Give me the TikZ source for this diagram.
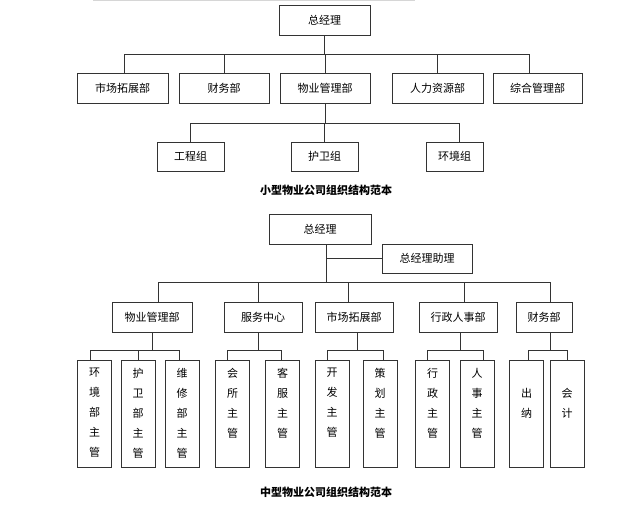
\documentclass[tikz,border=0pt]{standalone}
\usepackage{fontspec}
\usepackage{tikz}
\usetikzlibrary{positioning, calc}
\newfontfamily\cjk{Noto Sans CJK SC}
\definecolor{orgline}{HTML}{333333}
\definecolor{cropgray}{HTML}{D6D6D6}

\tikzset{
  orgbox/.style={draw=orgline, line width=0.8pt, minimum height=30, inner sep=0pt,
    font=\cjk\fontsize{11}{12}\selectfont},
  leafbox/.style={draw=orgline, line width=0.8pt, minimum width=34, minimum height=107, inner sep=0pt},
  leaftext/.style={anchor=north, inner sep=0pt, align=center,
    font=\cjk\fontsize{11}{20}\selectfont},
  link/.style={draw=orgline, line width=0.8pt},
  caption/.style={font=\cjk\bfseries\fontsize{11}{13}\selectfont}
}

\begin{document}
\begin{tikzpicture}[x=1pt, y=-1pt]
    \useasboundingbox (0,0) rectangle (640,519);
    % faint strip left at the top edge
    \draw[cropgray, line width=1pt] (93,0.5) -- (415,0.5);

    % small company
    \node[orgbox, minimum width=91] (gmA) at (324.5,20) {总经理};
    \node[orgbox, minimum width=91] (mkA) at (122.5,88) {市场拓展部};
    \node[orgbox, minimum width=90] (cwA) at (224,88) {财务部};
    \node[orgbox, minimum width=90] (wyA) at (325,88) {物业管理部};
    \node[orgbox, minimum width=91] (rlA) at (437.5,88) {人力资源部};
    \node[orgbox, minimum width=89] (zhA) at (537.5,88) {综合管理部};
    \node[orgbox, minimum width=67, minimum height=29] (gcA) at (190.5,156.5) {工程组};
    \node[orgbox, minimum width=67, minimum height=29] (hwA) at (324.5,156.5) {护卫组};
    \node[orgbox, minimum width=57, minimum height=29] (hjA) at (454.5,156.5) {环境组};
    \node[caption] (capA) at (326,190) {小型物业公司组织结构范本};

    \coordinate (busA) at (0,54);
    \coordinate (subA) at (0,123);
    \draw[link] (gmA.south) -- (gmA.south |- busA);
    \draw[link] ([xshift=1.5]mkA.north |- busA) -- ([xshift=-8.5]zhA.north |- busA);
    \foreach \n/\dx in {mkA/1.5, cwA/0, wyA/0, rlA/-0.5, zhA/-8.5}
      \draw[link] ([xshift=\dx]\n.north) -- ([xshift=\dx]\n.north |- busA);
    \draw[link] (wyA.south) -- (wyA.south |- subA);
    \draw[link] (gcA.north |- subA) -- ([xshift=4.5]hjA.north |- subA);
    \foreach \n/\dx in {gcA/0, hwA/0, hjA/4.5}
      \draw[link] ([xshift=\dx]\n.north) -- ([xshift=\dx]\n.north |- subA);

    % medium company
    \node[orgbox, minimum width=102] (gmB) at (320,229) {总经理};
    \node[orgbox, minimum width=90, minimum height=29] (zlB) at (427,258.5) {总经理助理};
    \node[orgbox, minimum width=80] (wyB) at (152,317) {物业管理部};
    \node[orgbox, minimum width=78] (fwB) at (263,317) {服务中心};
    \node[orgbox, minimum width=78] (scB) at (354,317) {市场拓展部};
    \node[orgbox, minimum width=78] (xzB) at (458,317) {行政人事部};
    \node[orgbox, minimum width=56] (cwB) at (544,317) {财务部};
    \node[caption] (capB) at (326,492) {中型物业公司组织结构范本};

    \coordinate (busB) at (0,282);
    \coordinate (subB) at (0,350);
    \draw[link] ([xshift=6]gmB.south) -- ([xshift=6]gmB.south |- busB);
    \draw[link] ([xshift=6]gmB.south |- zlB.west) -- (zlB.west);
    \draw[link] ([xshift=6]wyB.north |- busB) -- ([xshift=6]cwB.north |- busB);
    \foreach \n/\dx in {wyB/6, fwB/-5, scB/-6, xzB/6, cwB/6}
      \draw[link] ([xshift=\dx]\n.north) -- ([xshift=\dx]\n.north |- busB);
    \foreach \n/\dx in {wyB/0, fwB/-5, scB/3, xzB/2, cwB/6}
      \draw[link] ([xshift=\dx]\n.south) -- ([xshift=\dx]\n.south |- subB);

    % supervisors, written top to bottom
    \foreach \i/\x/\dx/\t/\s in {
        1/94.5/-4.5/{环\\境\\部\\主\\管}/-8,
        2/138/0/{护\\卫\\部\\主\\管}/-8,
        3/182/-3/{维\\修\\部\\主\\管}/-8,
        4/232.5/-5.5/{会\\所\\主\\管}/-8,
        5/282.5/-1.5/{客\\服\\主\\管}/-8,
        6/332/-5/{开\\发\\主\\管}/-8,
        7/380/3/{策\\划\\主\\管}/-8,
        8/432.5/-5.5/{行\\政\\主\\管}/-8,
        9/477/6/{人\\事\\主\\管}/-8,
        10/526.5/1.5/{出\\纳}/-28,
        11/567/0/{会\\计}/-28} {
      \node[leafbox] (s\i) at (\x,413.5) {};
      \node[leaftext] (t\i) at ([yshift=\s]s\i.north) {\t};
      \draw[link] ([xshift=\dx]s\i.north) -- ([xshift=\dx]s\i.north |- subB);
    }
    \draw[link] ([xshift=-4.5]s1.north |- subB) -- ([xshift=-3]s3.north |- subB);
    \draw[link] ([xshift=-5.5]s4.north |- subB) -- ([xshift=-1.5]s5.north |- subB);
    \draw[link] ([xshift=-5]s6.north |- subB) -- ([xshift=3]s7.north |- subB);
    \draw[link] ([xshift=-5.5]s8.north |- subB) -- ([xshift=6]s9.north |- subB);
    \draw[link] ([xshift=1.5]s10.north |- subB) -- (s11.north |- subB);
\end{tikzpicture}
\end{document}
